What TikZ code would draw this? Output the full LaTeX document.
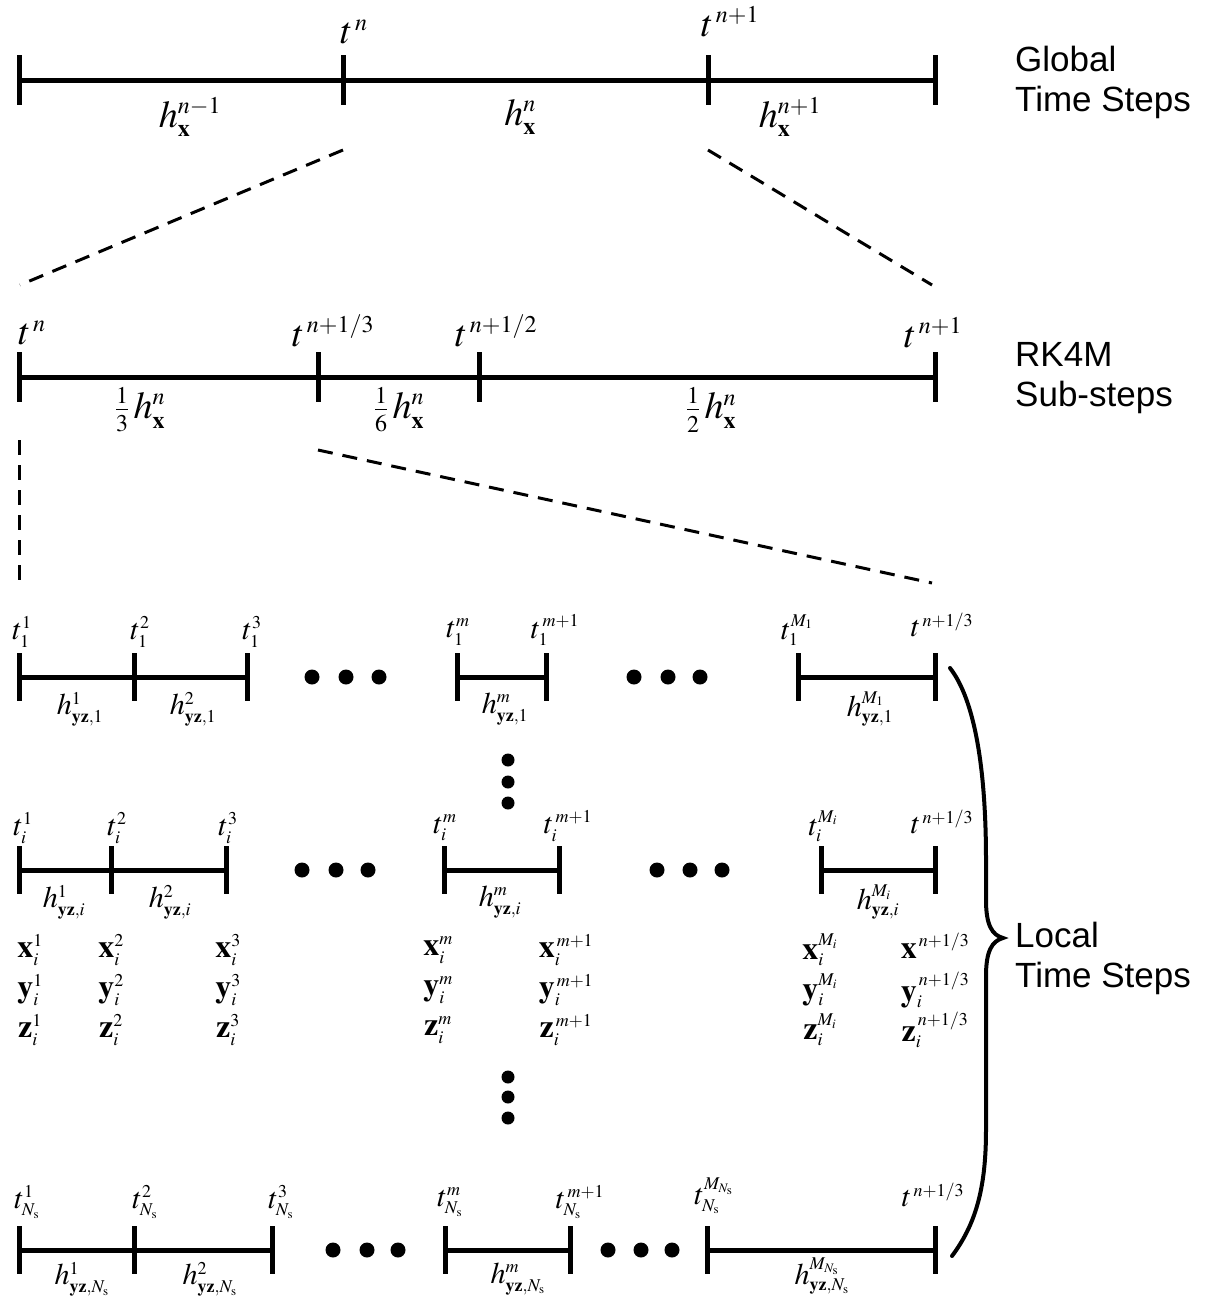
\documentclass[tikz,border=0pt]{standalone}
\usepackage{amsmath}
\usepackage{mathptmx}
\usepackage[no-math]{fontspec}
\newfontfamily\sansfnt{Liberation Sans}
\DeclareMathSizes{38}{38}{24}{17}
\DeclareMathSizes{30}{30}{18}{13}
\DeclareMathSizes{32}{32}{18}{13}
\begin{document}
\begin{tikzpicture}[x=1pt,y=-1pt,
  axis/.style={line width=5pt},
  tickmark/.style={line width=5pt},
  big/.style={inner sep=0pt,font=\fontsize{38}{44}\selectfont},
  sml/.style={inner sep=0pt,font=\fontsize{30}{34}\selectfont},
  vec/.style={inner sep=0pt,font=\fontsize{32}{36}\selectfont},
  side/.style={inner sep=0pt,anchor=west,align=left,font=\fontsize{35}{40}\selectfont\sansfnt},
  bigdot/.style={circle,fill,inner sep=0pt,minimum size=15pt},
  dsh/.style={line width=3pt,dash pattern=on 15pt off 10pt},
  brace/.style={line width=4pt,line cap=round}]
\useasboundingbox (0,0) rectangle (1206,1299);

% ---------- Global time steps ----------
\coordinate (G0) at (19,80);
\coordinate (G1) at (343,80);
\coordinate (G2) at (708,80);
\coordinate (G3) at (935,80);
\draw[axis] (G0) -- (G3);
\foreach \c in {G0,G1,G2,G3} \draw[tickmark] ([yshift=25pt]\c) -- ([yshift=-25pt]\c);
\node[big] (tG1) at (354,32) {$t^{\,n}$};
\node[big] (tG2) at (730,22) {$t^{\,n+1}$};
\node[big] (hG0) at (190,117) {$h^{n-1}_{\mathbf{x}}$};
\node[big] (hG1) at (520,117) {$h^{n}_{\mathbf{x}}$};
\node[big] (hG2) at (790,117) {$h^{n+1}_{\mathbf{x}}$};
\node[side] (gts) at (1015,82) {Global\\Time Steps};

% dashed zoom lines
\coordinate (d1a) at (343,150);
\coordinate (d1b) at (20,285);
\coordinate (d2a) at (708,150);
\coordinate (d2b) at (932,285);
\draw[dsh] (d1a) -- (d1b);
\draw[dsh] (d2a) -- (d2b);

% ---------- RK4M sub-steps ----------
\coordinate (R0) at (19,377);
\coordinate (R1) at (318,377);
\coordinate (R2) at (479,377);
\coordinate (R3) at (935,377);
\draw[axis] (R0) -- (R3);
\foreach \c in {R0,R1,R2,R3} \draw[tickmark] ([yshift=25pt]\c) -- ([yshift=-25pt]\c);
\node[big] (tR0) at (32,333) {$t^{\,n}$};
\node[big] (tR1) at (333,331) {$t^{\,n+1/3}$};
\node[big] (tR2) at (496,331) {$t^{\,n+1/2}$};
\node[big] (tR3) at (933,333) {$t^{\,n+1}$};
\node[big] (fR0) at (140,410) {$\tfrac{1}{3}\,h^{n}_{\mathbf{x}}$};
\node[big] (fR1) at (399,410) {$\tfrac{1}{6}\,h^{n}_{\mathbf{x}}$};
\node[big] (fR2) at (711,410) {$\tfrac{1}{2}\,h^{n}_{\mathbf{x}}$};
\node[side] (rks) at (1015,378) {RK4M\\Sub-steps};

\coordinate (d3a) at (19,440);
\coordinate (d3b) at (19,580);
\coordinate (d4a) at (318,450);
\coordinate (d4b) at (932,583);
\draw[dsh] (d3a) -- (d3b);
\draw[dsh] (d4a) -- (d4b);

% ---------- Local row 1 ----------
\coordinate (A0) at (19,677);
\coordinate (A1) at (134,677);
\coordinate (A2) at (247,677);
\coordinate (A3) at (457,677);
\coordinate (A4) at (546,677);
\coordinate (A5) at (798,677);
\coordinate (A6) at (935,677);
\draw[axis] (A0) -- (A2);
\draw[axis] (A3) -- (A4);
\draw[axis] (A5) -- (A6);
\foreach \c in {A0,A1,A2,A3,A4,A5,A6} \draw[tickmark] ([yshift=24pt]\c) -- ([yshift=-24pt]\c);
\node[sml] (tA0) at (22,632) {$t^{1}_{1}$};
\node[sml] (tA1) at (140,632) {$t^{2}_{1}$};
\node[sml] (tA2) at (252,632) {$t^{3}_{1}$};
\node[sml] (tA3) at (458,632) {$t^{m}_{1}$};
\node[sml] (tA4) at (555,630) {$t^{\,m+1}_{1}$};
\node[sml] (tA5) at (797,630) {$t^{M_1}_{1}$};
\node[sml] (tA6) at (942,625) {$t^{\,n+1/3}$};
\node[sml] (hA0) at (80,709) {$h^{1}_{\mathbf{yz},1}$};
\node[sml] (hA1) at (193,709) {$h^{2}_{\mathbf{yz},1}$};
\node[sml] (hA3) at (505,709) {$h^{m}_{\mathbf{yz},1}$};
\node[sml] (hA5) at (870,709) {$h^{M_1}_{\mathbf{yz},1}$};
\node[bigdot] (pA1) at (312,677) {};
\node[bigdot] (pA2) at (346,677) {};
\node[bigdot] (pA3) at (379,677) {};
\node[bigdot] (pA4) at (634,677) {};
\node[bigdot] (pA5) at (668,677) {};
\node[bigdot] (pA6) at (700,677) {};

% vertical dots
\node[bigdot,minimum size=13pt] (v1) at (508,760) {};
\node[bigdot,minimum size=13pt] (v2) at (508,782) {};
\node[bigdot,minimum size=13pt] (v3) at (508,803) {};

% ---------- Local row i ----------
\coordinate (B0) at (19,870);
\coordinate (B1) at (111,870);
\coordinate (B2) at (226,870);
\coordinate (B3) at (444,870);
\coordinate (B4) at (559,870);
\coordinate (B5) at (821,870);
\coordinate (B6) at (935,870);
\draw[axis] (B0) -- (B2);
\draw[axis] (B3) -- (B4);
\draw[axis] (B5) -- (B6);
\foreach \c in {B0,B1,B2,B3,B4,B5,B6} \draw[tickmark] ([yshift=24pt]\c) -- ([yshift=-24pt]\c);
\node[sml] (tB0) at (23,828) {$t^{1}_{i}$};
\node[sml] (tB1) at (117,828) {$t^{2}_{i}$};
\node[sml] (tB2) at (228,828) {$t^{3}_{i}$};
\node[sml] (tB3) at (445,828) {$t^{m}_{i}$};
\node[sml] (tB4) at (568,826) {$t^{\,m+1}_{i}$};
\node[sml] (tB5) at (823,826) {$t^{M_i}_{i}$};
\node[sml] (tB6) at (942,822) {$t^{\,n+1/3}$};
\node[sml] (hB0) at (64,902) {$h^{1}_{\mathbf{yz},i}$};
\node[sml] (hB1) at (170,902) {$h^{2}_{\mathbf{yz},i}$};
\node[sml] (hB3) at (500,902) {$h^{m}_{\mathbf{yz},i}$};
\node[sml] (hB5) at (878,902) {$h^{M_i}_{\mathbf{yz},i}$};
\node[bigdot] (pB1) at (302,870) {};
\node[bigdot] (pB2) at (336,870) {};
\node[bigdot] (pB3) at (368,870) {};
\node[bigdot] (pB4) at (657,870) {};
\node[bigdot] (pB5) at (690,870) {};
\node[bigdot] (pB6) at (722,870) {};

% state vectors
\foreach \xx/\sup/\nm in {30/1/a,111/2/b,228/3/c,438/m/d,566/\,m+1/e,820/M_i/f}{
  \node[vec] (x\nm) at (\xx,950) {$\mathbf{x}^{\sup}_{i}$};
  \node[vec] (y\nm) at (\xx,990) {$\mathbf{y}^{\sup}_{i}$};
  \node[vec] (z\nm) at (\xx,1030) {$\mathbf{z}^{\sup}_{i}$};
}
\node[vec] (xg) at (935,946) {$\mathbf{x}^{\,n+1/3}$};
\node[vec] (yg) at (935,990) {$\mathbf{y}^{\,n+1/3}_{i}$};
\node[vec] (zg) at (935,1030) {$\mathbf{z}^{\,n+1/3}_{i}$};

\node[bigdot,minimum size=13pt] (v4) at (508,1077) {};
\node[bigdot,minimum size=13pt] (v5) at (508,1097) {};
\node[bigdot,minimum size=13pt] (v6) at (508,1118) {};

% ---------- Local row N_s ----------
\coordinate (C0) at (19,1250);
\coordinate (C1) at (134,1250);
\coordinate (C2) at (272,1250);
\coordinate (C3) at (445,1250);
\coordinate (C4) at (570,1250);
\coordinate (C5) at (707,1250);
\coordinate (C6) at (935,1250);
\draw[axis] (C0) -- (C2);
\draw[axis] (C3) -- (C4);
\draw[axis] (C5) -- (C6);
\foreach \c in {C0,C1,C2,C3,C4,C5,C6} \draw[tickmark] ([yshift=24pt]\c) -- ([yshift=-24pt]\c);
\node[sml] (tC0) at (27,1202) {$t^{1}_{N_{\mathrm{s}}}$};
\node[sml] (tC1) at (145,1202) {$t^{2}_{N_{\mathrm{s}}}$};
\node[sml] (tC2) at (281,1202) {$t^{3}_{N_{\mathrm{s}}}$};
\node[sml] (tC3) at (450,1202) {$t^{m}_{N_{\mathrm{s}}}$};
\node[sml] (tC4) at (580,1202) {$t^{\,m+1}_{N_{\mathrm{s}}}$};
\node[sml] (tC5) at (714,1196) {$t^{M_{N_{\mathrm{s}}}}_{N_{\mathrm{s}}}$};
\node[sml] (tC6) at (933,1195) {$t^{\,n+1/3}$};
\node[sml] (hC0) at (82,1279) {$h^{1}_{\mathbf{yz},N_{\mathrm{s}}}$};
\node[sml] (hC1) at (210,1279) {$h^{2}_{\mathbf{yz},N_{\mathrm{s}}}$};
\node[sml] (hC3) at (518,1279) {$h^{m}_{\mathbf{yz},N_{\mathrm{s}}}$};
\node[sml] (hC5) at (822,1276) {$h^{M_{N_{\mathrm{s}}}}_{\mathbf{yz},N_{\mathrm{s}}}$};
\node[bigdot] (pC1) at (333,1250) {};
\node[bigdot] (pC2) at (367,1250) {};
\node[bigdot] (pC3) at (398,1250) {};
\node[bigdot] (pC4) at (608,1250) {};
\node[bigdot] (pC5) at (641,1250) {};
\node[bigdot] (pC6) at (672,1250) {};

% ---------- brace ----------
\coordinate (br1) at (950,668);
\coordinate (br2) at (1003,938);
\coordinate (br3) at (952,1256);
\draw[brace] (br1) .. controls (975,700) and (986,770) .. (986,860) -- (986,900)
  .. controls (986,925) and (992,935) .. (br2)
  .. controls (992,941) and (986,951) .. (986,976) -- (986,1130)
  .. controls (986,1190) and (975,1225) .. (br3);
\node[side] (lts) at (1015,958) {Local\\Time Steps};
\end{tikzpicture}
\end{document}
